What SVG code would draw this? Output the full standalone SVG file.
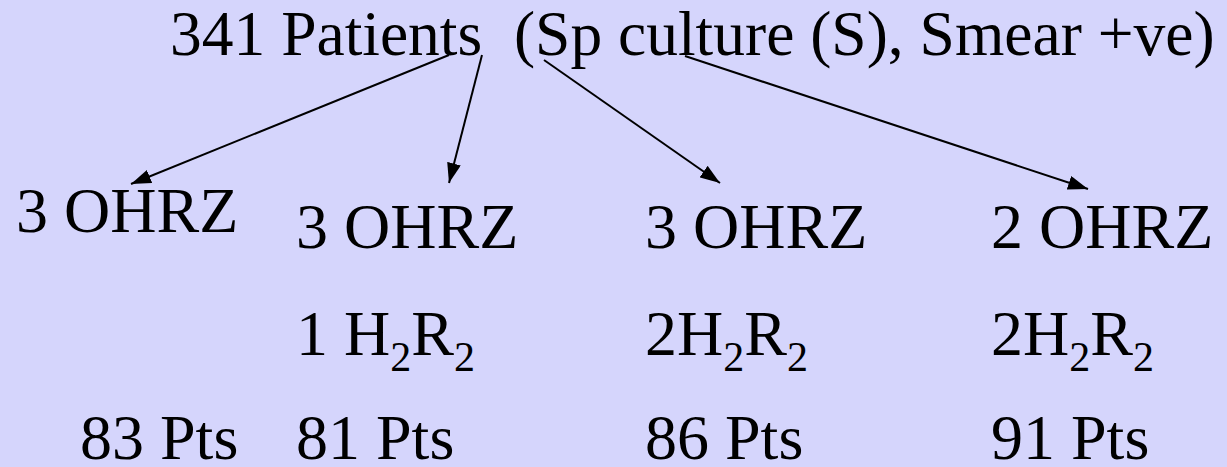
<svg xmlns="http://www.w3.org/2000/svg" width="1227" height="467" viewBox="0 0 1227 467" font-family="'Liberation Serif', 'DejaVu Serif', serif">
  <defs>
    <marker id="head" viewBox="0 0 20 14" refX="20" refY="7" markerWidth="20" markerHeight="14" markerUnits="userSpaceOnUse" orient="auto">
      <path d="M0,0 L20,7 L0,14 z" fill="#000"/>
    </marker>
    <style>
      .lbl { font-family: 'Liberation Serif', 'DejaVu Serif', serif; font-size: 64px; fill: #000; }
      .title { font-size: 63.5px; }
      .sub { font-size: 42px; }
      .edge { stroke: #000; stroke-width: 2; fill: none; marker-end: url(#head); }
    </style>
  </defs>
  <rect width="1227" height="467" fill="#D5D5FC"/>

  <g id="root">
    <text class="lbl title" x="170" y="55" xml:space="preserve">341 Patients  (Sp culture (S), Smear +ve)</text>
  </g>

  <g id="connectors">
    <line class="edge" x1="449" y1="55" x2="131" y2="184"/>
    <line class="edge" x1="482" y1="55" x2="449" y2="183"/>
    <line class="edge" x1="544" y1="60" x2="720" y2="183"/>
    <line class="edge" x1="685" y1="56" x2="1088" y2="189"/>
  </g>

  <g id="arm1">
    <text class="lbl" x="16" y="232">3 OHRZ</text>
    <text class="lbl" x="80" y="459">83 Pts</text>
  </g>

  <g id="arm2">
    <text class="lbl" x="296" y="248">3 OHRZ</text>
    <text class="lbl" x="296" y="355">1 H<tspan class="sub" dy="16">2</tspan><tspan dy="-16">R</tspan><tspan class="sub" dy="16">2</tspan></text>
    <text class="lbl" x="296" y="459">81 Pts</text>
  </g>

  <g id="arm3">
    <text class="lbl" x="645" y="248">3 OHRZ</text>
    <text class="lbl" x="645" y="355">2H<tspan class="sub" dy="16">2</tspan><tspan dy="-16">R</tspan><tspan class="sub" dy="16">2</tspan></text>
    <text class="lbl" x="645" y="459">86 Pts</text>
  </g>

  <g id="arm4">
    <text class="lbl" x="991" y="248">2 OHRZ</text>
    <text class="lbl" x="991" y="355">2H<tspan class="sub" dy="16">2</tspan><tspan dy="-16">R</tspan><tspan class="sub" dy="16">2</tspan></text>
    <text class="lbl" x="991" y="459">91 Pts</text>
  </g>
</svg>
